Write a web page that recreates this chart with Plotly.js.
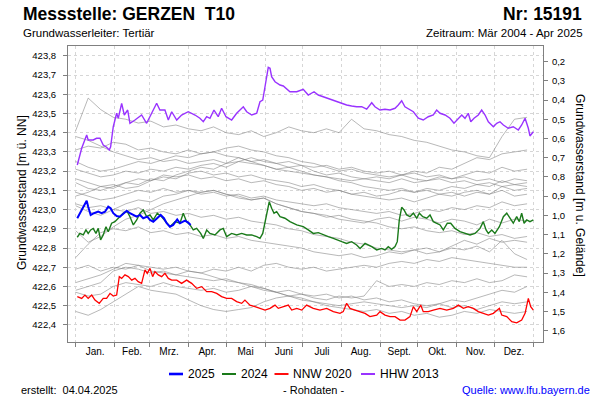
<!DOCTYPE html>
<html><head><meta charset="utf-8">
<script src="https://cdn.plot.ly/plotly-3.0.1.min.js"></script>
<style>html,body{margin:0;padding:0;background:#fff}#chart{width:600px;height:400px}</style>
</head><body><div id="chart"></div>
<script>
// ---- axis categories / ticks ----
const monthLabels = ['Jan.','Feb.','Mrz.','Apr.','Mai','Juni','Juli','Aug.','Sept.','Okt.','Nov.','Dez.'];
const monthStarts = [0,31,59,90,120,151,181,212,243,273,304,334,365];
const monthMids = [15.5,45,74.5,105,135.5,166,196.5,227.5,258,288.5,319,349.5];
const levelTicks = [422.4,422.5,422.6,422.7,422.8,422.9,423.0,423.1,423.2,423.3,423.4,423.5,423.6,423.7,423.8];
const depthTicks = [0.2,0.3,0.4,0.5,0.6,0.7,0.8,0.9,1.0,1.1,1.2,1.3,1.4,1.5,1.6];
const groundLevel = 423.97;

// ---- HHW 2013 ----
const hhwDays = [1.3,4.8,8.8,10.0,14.0,16.7,19.4,22.0,24.7,26.8,27.9,30.0,32.7,34.0,36.7,38.8,41.5,43.3,47.3,52.6,56.6,60.6,64.6,67.2,71.2,73.9,76.6,80.6,84.5,89.8,95.2,99.1,101.8,104.5,107.1,110.3,113.7,116.4,119.9,124.4,128.4,133.7,136.4,140.4,144.4,147.0,149.2,151.0,153.6,155.0,156.3,159.0,163.0,165.6,170.9,176.3,181.5,185.5,190.1,193.5,198.8,202.8,208.2,212.2,216.1,220.1,224.1,228.1,232.1,236.1,238.7,242.7,246.7,250.7,254.7,257.3,260.0,262.6,266.6,269.3,273.3,277.2,281.2,285.2,287.9,290.6,294.6,298.5,301.7,305.2,307.9,310.5,313.1,315.1,317.7,321.1,323.8,326.5,329.1,333.1,335.8,338.4,341.1,345.0,349.0,353.0,355.7,358.4,361.0,362.3,365.0];
const hhwLevel = [423.232,423.319,423.388,423.362,423.362,423.371,423.371,423.336,423.324,423.31,423.327,423.431,423.501,423.475,423.553,423.492,423.518,423.449,423.466,423.492,423.449,423.501,423.553,423.518,423.518,423.466,423.509,423.466,423.492,423.509,423.492,423.475,423.457,423.483,423.475,423.518,423.483,423.527,423.483,423.466,423.501,423.535,423.509,423.492,423.501,423.561,423.57,423.639,423.74,423.735,423.691,423.665,423.648,423.643,423.613,423.613,423.626,423.596,423.613,423.596,423.584,423.574,423.561,423.553,423.544,423.539,423.535,423.535,423.522,423.556,423.535,423.518,423.522,423.518,423.527,423.544,423.566,423.535,423.518,423.509,423.475,423.466,423.483,423.492,423.518,423.501,423.492,423.475,423.449,423.475,423.492,423.475,423.501,423.457,423.475,423.492,423.518,423.492,423.457,423.431,423.449,423.457,423.44,423.423,423.431,423.414,423.44,423.475,423.423,423.383,423.405];

// ---- NNW 2020 ----
const nnwDays = [1.3,4.8,7.4,10.0,12.8,15.4,18.8,22.0,24.7,27.4,30.0,32.7,34.8,36.7,39.3,42.0,44.7,47.3,49.9,52.6,55.3,57.1,59.3,61.4,63.2,65.9,68.6,71.2,73.9,76.6,80.6,84.5,88.5,92.5,96.5,100.5,104.5,108.5,112.5,116.4,120.4,124.4,128.4,132.4,135.0,139.0,143.0,147.0,151.0,155.0,159.0,161.6,165.6,169.6,172.3,176.3,180.3,184.2,189.5,194.8,200.2,205.5,210.8,213.4,216.1,218.8,222.8,226.8,230.8,234.7,240.1,242.7,246.7,250.7,254.7,258.7,262.6,266.6,269.3,272.0,275.2,277.2,281.2,285.2,290.6,295.9,301.2,305.2,309.2,313.1,317.1,321.1,325.1,329.1,333.1,337.9,339.8,343.8,347.8,351.7,355.7,358.4,361.0,362.9,365.0];
const nnwLevel = [422.547,422.538,422.555,422.538,422.555,422.529,422.512,422.538,422.538,422.564,422.55,422.555,422.651,422.642,422.66,422.651,422.633,422.642,422.625,422.616,422.686,422.668,422.694,422.651,422.677,422.66,422.651,422.668,422.642,422.633,422.633,422.616,422.633,422.616,422.59,422.599,422.573,422.573,422.564,422.547,422.538,422.538,422.521,422.512,422.529,422.503,422.495,422.486,422.477,422.486,422.503,422.486,422.495,422.503,422.477,422.486,422.477,422.503,422.486,422.477,422.486,422.469,422.46,422.469,422.512,422.486,422.477,422.469,422.46,422.443,422.451,422.469,422.451,422.443,422.443,422.425,422.425,422.443,422.495,422.469,422.503,422.469,422.469,422.477,422.486,422.477,422.486,422.503,422.486,422.495,422.486,422.469,422.46,422.451,422.46,422.486,422.451,422.443,422.417,422.411,422.425,422.46,422.538,422.495,422.477];

// ---- 2024 ----
const y2024Days = [1.3,3.4,6.1,8.2,10.0,12.0,14.0,16.2,18.0,19.9,22.0,24.2,26.0,28.7,31.3,34.0,38.0,41.2,43.3,46.0,48.7,51.3,53.9,56.6,59.3,61.9,65.1,68.6,72.6,75.2,79.2,83.2,85.8,88.5,91.2,93.8,96.5,99.7,101.8,104.5,107.1,111.1,115.1,117.7,120.4,124.4,128.4,132.4,136.4,140.4,144.4,147.0,149.2,151.0,152.8,154.4,156.3,158.2,160.3,163.0,166.9,170.9,176.3,181.5,185.5,189.5,193.5,197.5,201.5,205.5,209.4,212.2,216.1,220.1,224.1,226.8,230.8,233.4,236.1,240.1,244.1,246.7,249.3,252.0,254.7,256.5,258.1,260.0,261.9,264.0,266.6,269.3,272.0,274.1,276.8,280.0,282.6,285.2,287.9,290.6,293.2,296.4,299.1,302.5,306.5,310.5,314.5,318.5,322.5,325.1,327.3,329.1,331.8,334.4,337.9,341.1,343.8,346.4,349.0,351.7,353.8,355.7,357.6,359.7,362.3,365.0];
const y2024Level = [422.856,422.876,422.868,422.894,422.876,422.894,422.902,422.876,422.902,422.842,422.868,422.911,422.885,422.929,422.937,422.955,422.981,422.989,422.963,422.92,422.946,422.981,422.998,422.963,422.972,422.946,422.981,422.963,422.929,422.911,422.937,422.929,422.981,422.937,422.92,422.894,422.902,422.876,422.85,422.894,422.876,422.868,422.894,422.902,422.859,422.876,422.868,422.876,422.868,422.868,422.859,422.85,422.876,422.929,422.998,423.041,423.007,422.981,422.989,422.963,422.955,422.937,422.92,422.911,422.894,422.876,422.88,422.868,422.859,422.85,422.842,422.833,422.824,422.833,422.816,422.798,422.824,422.816,422.807,422.79,422.798,422.79,422.807,422.793,422.807,422.833,422.946,423.012,422.998,422.972,422.963,422.981,422.955,422.981,422.963,422.955,422.972,422.937,422.929,422.92,422.894,422.929,422.929,422.902,422.885,422.876,422.868,422.876,422.902,422.937,422.894,422.876,422.894,422.876,422.911,422.963,422.981,422.955,422.929,422.963,422.937,422.981,422.929,422.946,422.937,422.946];

// ---- 2025 ----
const y2025Days = [1.3,3.4,5.6,7.4,8.8,10.0,12.0,14.6,18.0,20.7,23.4,26.0,27.9,30.0,32.7,35.3,38.0,40.7,43.3,46.0,48.7,51.3,53.9,57.1,59.3,61.9,65.1,67.8,70.4,72.6,75.2,77.8,81.0,83.2,87.2,89.8,91.7];
const y2025Level = [422.955,422.981,423.007,423.024,423.046,423.015,422.972,422.981,422.989,422.981,422.989,423.015,423.007,422.981,422.966,422.963,422.981,422.994,422.981,422.972,422.963,422.972,422.955,422.963,422.946,422.937,422.955,422.972,422.955,422.929,422.911,422.92,422.949,422.929,422.942,422.932,422.92];

// ---- other years (grey), sampled every 10 days ----
const greyDays = [0,10,20,30,40,50,60,70,80,90,100,110,120,130,140,150,160,170,180,190,200,210,220,230,240,250,260,270,280,290,300,310,320,330,340,350,360];
const g2005 = [423.41,423.58,423.52,423.48,423.47,423.45,423.46,423.43,423.44,423.42,423.41,423.43,423.40,423.39,423.41,423.38,423.40,423.43,423.41,423.40,423.42,423.40,423.47,423.42,423.41,423.39,423.38,423.36,423.35,423.33,423.31,423.30,423.28,423.27,423.38,423.47,423.48];
const g2006 = [423.38,423.36,423.33,423.30,423.28,423.26,423.27,423.25,423.26,423.24,423.25,423.26,423.24,423.25,423.27,423.25,423.24,423.25,423.23,423.22,423.23,423.21,423.22,423.20,423.19,423.20,423.18,423.19,423.17,423.18,423.16,423.17,423.15,423.16,423.14,423.16,423.15];
const g2007 = [423.31,423.33,423.32,423.35,423.34,423.31,423.32,423.30,423.29,423.31,423.29,423.30,423.32,423.33,423.31,423.30,423.28,423.27,423.25,423.24,423.22,423.20,423.21,423.19,423.18,423.17,423.18,423.16,423.15,423.16,423.14,423.15,423.13,423.14,423.12,423.13,423.12];
const g2008 = [423.25,423.22,423.20,423.21,423.23,423.25,423.24,423.26,423.28,423.27,423.29,423.30,423.28,423.27,423.25,423.26,423.24,423.22,423.23,423.20,423.18,423.19,423.17,423.16,423.15,423.14,423.16,423.14,423.15,423.17,423.16,423.18,423.20,423.19,423.22,423.20,423.21];
const g2009 = [423.21,423.19,423.17,423.18,423.20,423.19,423.21,423.20,423.22,423.21,423.23,423.24,423.22,423.25,423.24,423.23,423.21,423.22,423.20,423.18,423.17,423.15,423.14,423.12,423.11,423.10,423.11,423.09,423.10,423.08,423.09,423.07,423.09,423.08,423.10,423.07,423.08];
const g2010 = [423.16,423.14,423.12,423.13,423.11,423.12,423.15,423.17,423.16,423.19,423.20,423.18,423.19,423.17,423.18,423.16,423.15,423.14,423.12,423.13,423.11,423.10,423.08,423.07,423.06,423.05,423.06,423.04,423.06,423.08,423.07,423.09,423.10,423.08,423.12,423.10,423.11];
const g2011 = [423.14,423.11,423.10,423.12,423.14,423.13,423.16,423.15,423.18,423.20,423.22,423.21,423.24,423.27,423.25,423.23,423.21,423.20,423.19,423.18,423.17,423.16,423.15,423.16,423.17,423.16,423.18,423.20,423.19,423.22,423.21,423.24,423.27,423.26,423.29,423.30,423.31];
const g2012 = [423.09,423.07,423.05,423.06,423.08,423.10,423.09,423.11,423.09,423.10,423.08,423.09,423.07,423.08,423.06,423.07,423.05,423.04,423.03,423.02,423.03,423.01,423.00,422.99,422.98,422.99,422.97,422.98,423.00,422.99,423.01,423.00,423.02,423.01,423.04,423.02,423.03];
const g2014 = [423.07,423.09,423.12,423.11,423.14,423.16,423.15,423.18,423.17,423.18,423.16,423.17,423.15,423.16,423.14,423.15,423.13,423.12,423.10,423.11,423.09,423.10,423.08,423.09,423.07,423.08,423.10,423.09,423.11,423.10,423.12,423.11,423.13,423.12,423.15,423.13,423.14];
const g2015 = [423.02,422.99,422.97,423.00,423.03,423.05,423.04,423.07,423.08,423.10,423.09,423.10,423.08,423.06,423.05,423.06,423.03,423.01,422.99,422.98,422.97,422.95,422.94,422.93,422.95,422.96,422.94,422.96,422.95,422.93,422.95,422.94,422.92,422.95,422.93,422.95,422.94];
const g2016 = [422.89,422.83,422.86,422.91,422.95,422.97,423.00,423.03,423.05,423.07,423.09,423.10,423.08,423.07,423.05,423.06,423.03,423.01,422.99,422.98,422.96,422.97,422.95,422.94,422.93,422.91,422.90,422.91,422.89,422.88,422.89,422.87,422.88,422.86,422.87,422.85,422.86];
const g2017 = [422.75,422.82,422.88,422.90,422.89,422.91,422.88,422.89,422.87,422.88,422.86,422.87,422.85,422.86,422.84,422.83,422.82,422.81,422.80,422.78,422.77,422.76,422.77,422.75,422.76,422.78,422.77,422.79,422.80,422.78,422.81,422.84,422.82,422.85,422.83,422.84,422.83];
const g2018 = [423.03,423.01,423.02,423.00,422.99,423.01,422.98,422.99,422.97,422.98,422.96,422.97,422.95,422.96,422.94,422.93,422.92,422.90,422.89,422.87,422.86,422.85,422.83,422.82,422.80,422.79,422.78,422.79,422.77,422.78,422.80,422.79,422.81,422.78,422.84,422.77,422.74];
const g2019 = [422.69,422.71,422.68,422.70,422.69,422.71,422.68,422.67,422.66,422.68,422.67,422.69,422.68,422.70,422.68,422.71,422.72,422.70,422.69,422.70,422.68,422.69,422.70,422.71,422.70,422.72,422.73,422.72,422.74,422.73,422.75,422.74,422.73,422.72,422.71,422.70,422.70];
const g2021 = [422.58,422.60,422.62,422.68,422.70,422.69,422.67,422.68,422.66,422.65,422.64,422.63,422.64,422.62,422.61,422.59,422.57,422.55,422.53,422.52,422.51,422.50,422.51,422.52,422.51,422.50,422.49,422.50,422.49,422.51,422.53,422.52,422.54,422.56,422.58,422.57,422.60];
const g2022 = [422.47,422.45,422.48,422.52,422.56,422.60,422.58,422.57,422.56,422.53,422.50,422.48,422.47,422.48,422.49,422.52,422.54,422.55,422.54,422.52,422.50,422.49,422.48,422.47,422.48,422.46,422.47,422.45,422.46,422.44,422.45,422.47,422.46,422.48,422.47,422.46,422.47];
const g2023 = [422.62,422.64,422.66,422.69,422.72,422.71,422.70,422.69,422.70,422.68,422.67,422.65,422.63,422.62,422.60,422.58,422.57,422.55,422.56,422.54,422.53,422.55,422.54,422.55,422.63,422.60,422.61,422.60,422.62,422.61,422.63,422.62,422.64,422.62,422.63,422.66,422.65];
const g2004 = [422.57,422.55,422.56,422.60,422.62,422.61,422.60,422.62,422.60,422.59,422.58,422.59,422.57,422.58,422.60,422.59,422.57,422.58,422.56,422.55,422.56,422.54,422.55,422.53,422.54,422.52,422.53,422.51,422.50,422.51,422.49,422.50,422.48,422.50,422.52,422.51,422.52];
const greyNames = ['2004','2005','2006','2007','2008','2009','2010','2011','2012','2014','2015','2016','2017','2018','2019','2021','2022','2023'];
const greySeries = [g2004,g2005,g2006,g2007,g2008,g2009,g2010,g2011,g2012,g2014,g2015,g2016,g2017,g2018,g2019,g2021,g2022,g2023];

// ---- highlighted series (legend order) ----
const highlighted = [
  {name: '2025', days: y2025Days, level: y2025Level, color: '#0000ff', width: 2},
  {name: '2024', days: y2024Days, level: y2024Level, color: '#1a7a1a', width: 1.4},
  {name: 'NNW 2020', days: nnwDays, level: nnwLevel, color: '#ff0000', width: 1.3},
  {name: 'HHW 2013', days: hhwDays, level: hhwLevel, color: '#9933ff', width: 1.4}
];

// ---- traces ----
const traces = [];
greySeries.forEach((vals, i) => {
  traces.push({x: greyDays, y: vals, name: greyNames[i], type: 'scatter', mode: 'lines',
    line: {color: 'rgba(125,125,125,0.55)', width: 1}, hoverinfo: 'skip'});
});
highlighted.slice().reverse().forEach(s => {
  traces.push({x: s.days, y: s.level, name: s.name, type: 'scatter', mode: 'lines',
    line: {color: s.color, width: s.width}});
});
// same data on the depth axis (invisible) so the right-hand axis exists
traces.push({x: y2025Days, y: y2025Level.map(v => groundLevel - v), yaxis: 'y2', mode: 'lines',
  line: {width: 0, color: 'rgba(0,0,0,0)'}, hoverinfo: 'skip'});

// ---- layout helpers ----
const L = 68, R = 543, T = 46, B = 342;
const px = v => (v - L) / (R - L);
const py = v => (B - v) / (B - T);
const FONT = 'Liberation Sans, Arial, sans-serif';
const yRange = [422.311, 423.851];

const ann = (text, x, y, xanchor, size, extra) => Object.assign({
  text: text, xref: 'paper', yref: 'paper', x: px(x), y: py(y), xanchor: xanchor, yanchor: 'middle',
  showarrow: false, font: {family: FONT, size: size, color: '#000'}
}, extra || {});

// legend (key line + label) built from the highlighted series
const legendKeyX = [169, 222, 274.5, 361];
const legendY = 374;
const legendShapes = [], legendAnns = [];
highlighted.forEach((s, i) => {
  legendShapes.push({type: 'line', xref: 'paper', yref: 'paper',
    x0: px(legendKeyX[i]), x1: px(legendKeyX[i] + 14), y0: py(legendY), y1: py(legendY),
    line: {color: s.color, width: s.width + 0.6}});
  legendAnns.push(ann(s.name, legendKeyX[i] + 16.5, legendY, 'left', 12));
});

const layout = {
  width: 600, height: 400,
  margin: {l: L, r: 600 - R, t: T, b: 400 - B, pad: 0},
  paper_bgcolor: '#fff', plot_bgcolor: '#fff',
  separators: ',.',
  font: {family: FONT, size: 10, color: '#000'},
  hovermode: false,
  showlegend: false,
  xaxis: {
    range: [-6.1, 372.7], tickmode: 'array', tickvals: monthMids, ticktext: monthLabels,
    ticks: '', showgrid: false, zeroline: false,
    showline: true, linecolor: '#808080', linewidth: 1, mirror: true,
    tickfont: {size: 10, color: '#000'},
    minor: {tickmode: 'array', tickvals: monthStarts, ticks: 'outside', ticklen: 4, tickcolor: '#808080',
      showgrid: true, gridcolor: '#d6d6d6', gridwidth: 1, griddash: '3px,3px'}
  },
  yaxis: {
    range: yRange, tickmode: 'array', tickvals: levelTicks, tickformat: '.1f',
    ticks: 'outside', ticklen: 4, tickcolor: '#808080', ticklabelstandoff: 5,
    showgrid: true, gridcolor: '#d6d6d6', griddash: '3px,3px', zeroline: false,
    showline: true, linecolor: '#808080', linewidth: 1,
    tickfont: {size: 9.5, color: '#000'}
  },
  yaxis2: {
    overlaying: 'y', side: 'right', range: [groundLevel - yRange[0], groundLevel - yRange[1]],
    tickmode: 'array', tickvals: depthTicks, tickformat: '.1f',
    ticks: 'outside', ticklen: 4, tickcolor: '#808080', ticklabelstandoff: 2,
    showgrid: false, zeroline: false, showline: true, linecolor: '#808080', linewidth: 1,
    tickfont: {size: 9.5, color: '#000'}
  },
  shapes: legendShapes,
  annotations: [
    ann('<b>Messstelle: GERZEN\u00a0 T10</b>', 21, 14, 'left', 17.5),
    ann('<b>Nr: 15191</b>', 584, 14, 'right', 17.5),
    ann('Grundwasserleiter: Tertiär', 21, 33, 'left', 11.5),
    ann('Zeitraum: Mär 2004 - Apr 2025', 585, 33, 'right', 11.5),
    ann('Grundwasserstand [m ü. NN]', 22, 193, 'center', 12, {textangle: -90}),
    ann('Grundwasserstand [m u. Gelände]', 580, 185, 'center', 12, {textangle: 90}),
    ann('erstellt:\u00a0 04.04.2025', 19, 390, 'left', 11),
    ann('- Rohdaten -', 313, 390, 'center', 11),
    ann('Quelle: www.lfu.bayern.de', 592, 390, 'right', 11, {font: {family: FONT, size: 11, color: '#0000ff'}})
  ].concat(legendAnns)
};

Plotly.newPlot('chart', traces, layout, {displayModeBar: false, staticPlot: true});
</script>
</body></html>
